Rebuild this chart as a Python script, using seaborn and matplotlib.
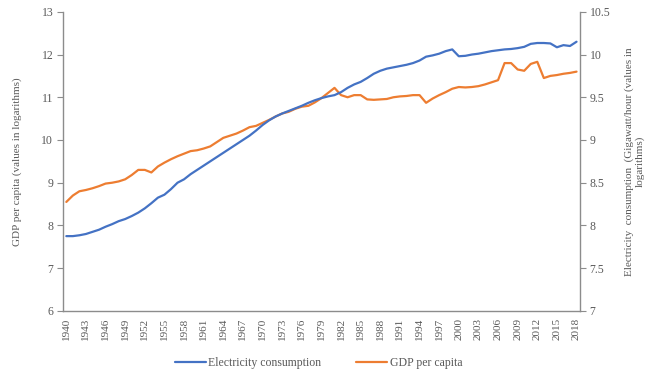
import numpy as np
import pandas as pd
import matplotlib
matplotlib.use("Agg")
import matplotlib.pyplot as plt
import seaborn as sns

years = list(range(1940, 2019))

# GDP per capita (log), left axis
gdp = [8.55, 8.70, 8.80, 8.83, 8.87, 8.92, 8.98, 9.00, 9.03, 9.08,
       9.18, 9.30, 9.30, 9.24, 9.38, 9.47, 9.55, 9.62, 9.68, 9.74,
       9.76, 9.80, 9.85, 9.95, 10.05, 10.10, 10.15, 10.22, 10.30, 10.33,
       10.40, 10.47, 10.55, 10.62, 10.66, 10.73, 10.78, 10.80, 10.88, 10.98,
       11.10, 11.22, 11.05, 11.00, 11.05, 11.05, 10.95, 10.94, 10.95, 10.96,
       11.00, 11.02, 11.03, 11.05, 11.05, 10.87, 10.97, 11.05, 11.12, 11.20,
       11.24, 11.23, 11.24, 11.26, 11.30, 11.35, 11.40, 11.80, 11.80, 11.65,
       11.62, 11.78, 11.83, 11.45, 11.50, 11.52, 11.55, 11.57, 11.60]

# Electricity consumption (log GWh), right axis
elec = [7.875, 7.875, 7.885, 7.900, 7.925, 7.950, 7.985, 8.015, 8.050, 8.075,
        8.110, 8.150, 8.200, 8.260, 8.325, 8.360, 8.425, 8.500, 8.540, 8.600,
        8.650, 8.700, 8.750, 8.800, 8.850, 8.900, 8.950, 9.000, 9.050, 9.110,
        9.175, 9.230, 9.275, 9.310, 9.340, 9.370, 9.400, 9.435, 9.465, 9.490,
        9.510, 9.525, 9.560, 9.610, 9.650, 9.680, 9.725, 9.775, 9.810, 9.835,
        9.850, 9.865, 9.880, 9.900, 9.930, 9.975, 9.990, 10.010, 10.040, 10.060,
        9.980, 9.985, 10.000, 10.010, 10.025, 10.040, 10.050, 10.060, 10.065, 10.075,
        10.090, 10.125, 10.135, 10.135, 10.130, 10.085, 10.110, 10.100, 10.150]

left_ticks = [6, 7, 8, 9, 10, 11, 12, 13]
right_ticks = [7, 7.5, 8, 8.5, 9, 9.5, 10, 10.5]
right_labels = ["7", "7.5", "8", "8.5", "9", "9.5", "10", "10.5"]
year_labels = list(range(1940, 2019, 3))

df = pd.DataFrame({"Year": years, "GDP": gdp, "Elec": elec})

sns.set_style("white")
plt.rcParams["font.family"] = ["Liberation Serif", "DejaVu Serif"]
txt = "#595959"
spine = "#8c8c8c"

fig = plt.figure(figsize=(6.5, 3.81), dpi=100)
ax = fig.add_axes([0.097, 0.184, 0.795, 0.785])
ax2 = ax.twinx()

sns.lineplot(data=df, x="Year", y="Elec", ax=ax2, color="#4472C4", linewidth=1.6,
             label="Electricity consumption", legend=False)
sns.lineplot(data=df, x="Year", y="GDP", ax=ax, color="#ED7D31", linewidth=1.6,
             label="GDP per capita", legend=False)

ax.set_xlim(1939.5, 2018.5)
ax.set_ylim(6, 13)
ax2.set_ylim(7, 10.5)

ax.set_yticks(left_ticks)
ax.set_yticklabels([str(t) for t in left_ticks])
ax2.set_yticks(right_ticks)
ax2.set_yticklabels(right_labels)
ax.set_xticks(year_labels)
ax.set_xticklabels([str(y) for y in year_labels], rotation=90)
ax.set_xticks(np.arange(1939.5, 2019, 1), minor=True)

for a in (ax, ax2):
    a.spines["top"].set_visible(False)
    for s in ("left", "right", "bottom"):
        a.spines[s].set_color(spine)
        a.spines[s].set_linewidth(1.0)
ax.spines["right"].set_visible(False)
ax2.spines["left"].set_visible(False)
ax2.spines["bottom"].set_visible(False)

ax.tick_params(axis="y", direction="out", length=4, color=spine, labelsize=8.5, labelcolor=txt, pad=3)
ax.tick_params(axis="x", which="major", length=0, labelsize=8, labelcolor=txt, pad=5)
ax.tick_params(axis="x", which="minor", direction="out", length=3.5, width=0.8, color=spine)
ax2.tick_params(axis="y", direction="out", length=4, color=spine, labelsize=8.5, labelcolor=txt, pad=3)

ax.set_xlabel("")
ax.set_ylabel("GDP per capita (values in logarithms)", fontsize=8, color=txt, labelpad=14)
ax2.set_ylabel("Electricity  consumption  (Gigawatt/hour (values in\nlogarithms)",
               fontsize=8, color=txt, rotation=90, labelpad=10)

h1, l1 = ax2.get_legend_handles_labels()
h2, l2 = ax.get_legend_handles_labels()
fig.legend(h1 + h2, l1 + l2, loc="center", bbox_to_anchor=(0.49, 0.047), ncol=2,
           frameon=False, fontsize=8.5, labelcolor=txt, handlelength=2.6,
           handletextpad=0.2, columnspacing=3.0)

fig.savefig("out.png", dpi=100)
